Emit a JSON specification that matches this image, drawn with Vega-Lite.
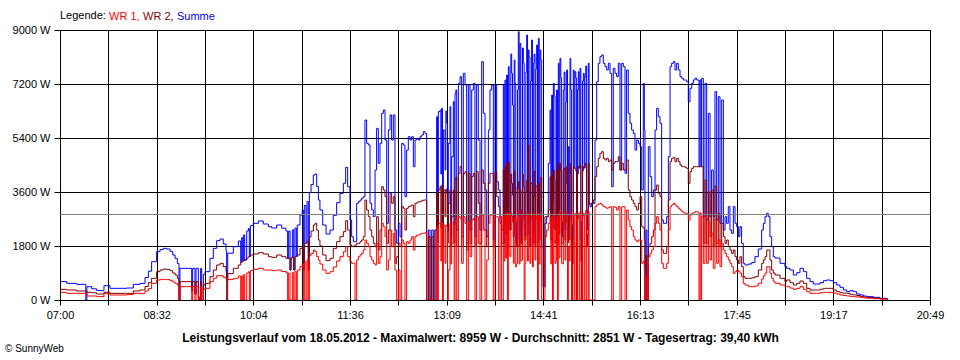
{
  "$schema": "https://vega.github.io/schema/vega-lite/v6.json",
  "width": 870,
  "height": 270,
  "autosize": "none",
  "padding": {"left": 60, "top": 30, "right": 30, "bottom": 60},
  "background": "#ffffff",
  "config": {
    "font": "Liberation Sans",
    "view": {"stroke": "#000000", "strokeWidth": 1},
    "axis": {"grid": true, "gridColor": "#000000", "gridOpacity": 1, "gridWidth": 1, "domain": false, "tickColor": "#000000", "tickWidth": 1, "labelColor": "#000000", "labelFont": "Liberation Sans", "labelFontSize": 11}
  },
  "title": {"text": "© SunnyWeb", "orient": "bottom", "anchor": "start", "frame": "group", "dx": -55, "offset": 1, "fontSize": 10, "fontWeight": "normal", "color": "#000000", "font": "Liberation Sans"},
  "data": {"values": [
    {"t":0.0,"wr1":256,"wr2":356,"sum":612},
    {"t":6.4,"wr1":222,"wr2":333,"sum":555},
    {"t":15.9,"wr1":222,"wr2":300,"sum":522},
    {"t":24.6,"wr1":222,"wr2":300,"sum":0},
    {"t":25.6,"wr1":133,"wr2":256,"sum":444},
    {"t":30.2,"wr1":133,"wr2":240,"sum":373},
    {"t":34.9,"wr1":120,"wr2":200,"sum":320},
    {"t":39.1,"wr1":111,"wr2":200,"sum":311},
    {"t":41.9,"wr1":222,"wr2":256,"sum":478},
    {"t":47.6,"wr1":167,"wr2":222,"sum":389},
    {"t":57.2,"wr1":167,"wr2":222,"sum":389},
    {"t":63.5,"wr1":180,"wr2":222,"sum":400},
    {"t":69.9,"wr1":222,"wr2":300,"sum":522},
    {"t":76.2,"wr1":222,"wr2":333,"sum":555},
    {"t":81.0,"wr1":300,"wr2":450,"sum":750},
    {"t":84.2,"wr1":380,"wr2":580,"sum":960},
    {"t":87.3,"wr1":556,"wr2":722,"sum":1278},
    {"t":92.1,"wr1":667,"wr2":944,"sum":1611},
    {"t":95.3,"wr1":680,"wr2":1000,"sum":1680},
    {"t":98.5,"wr1":689,"wr2":1033,"sum":1722},
    {"t":101.6,"wr1":680,"wr2":1020,"sum":1700},
    {"t":104.8,"wr1":644,"wr2":978,"sum":1622},
    {"t":107.4,"wr1":600,"wr2":900,"sum":1500},
    {"t":109.6,"wr1":556,"wr2":833,"sum":1389},
    {"t":111.8,"wr1":500,"wr2":720,"sum":1220},
    {"t":113.4,"wr1":0,"wr2":0,"sum":0},
    {"t":114.3,"wr1":444,"wr2":611,"sum":1055},
    {"t":125.5,"wr1":0,"wr2":300,"sum":300},
    {"t":126.4,"wr1":444,"wr2":611,"sum":1055},
    {"t":128.6,"wr1":0,"wr2":200,"sum":200},
    {"t":129.6,"wr1":444,"wr2":611,"sum":1055},
    {"t":131.8,"wr1":100,"wr2":0,"sum":100},
    {"t":132.8,"wr1":0,"wr2":0,"sum":0},
    {"t":134.0,"wr1":444,"wr2":611,"sum":1055},
    {"t":135.0,"wr1":0,"wr2":0,"sum":0},
    {"t":136.6,"wr1":356,"wr2":500,"sum":856},
    {"t":138.2,"wr1":389,"wr2":556,"sum":945},
    {"t":142.9,"wr1":611,"wr2":778,"sum":1389},
    {"t":146.1,"wr1":722,"wr2":1000,"sum":1722},
    {"t":149.3,"wr1":811,"wr2":1167,"sum":1978},
    {"t":152.5,"wr1":811,"wr2":1222,"sum":2033},
    {"t":155.6,"wr1":756,"wr2":1111,"sum":1867},
    {"t":158.2,"wr1":700,"wr2":944,"sum":1644},
    {"t":158.8,"wr1":722,"wr2":0,"sum":667},
    {"t":159.8,"wr1":680,"wr2":880,"sum":1560},
    {"t":165.2,"wr1":722,"wr2":1056,"sum":1778},
    {"t":169.9,"wr1":800,"wr2":1167,"sum":1967},
    {"t":172.2,"wr1":0,"wr2":1250,"sum":1250},
    {"t":173.1,"wr1":800,"wr2":1280,"sum":2080},
    {"t":174.1,"wr1":0,"wr2":1300,"sum":1300},
    {"t":175.0,"wr1":850,"wr2":1320,"sum":2170},
    {"t":176.0,"wr1":0,"wr2":1333,"sum":1333},
    {"t":177.9,"wr1":900,"wr2":1400,"sum":2300},
    {"t":179.5,"wr1":944,"wr2":1444,"sum":2388},
    {"t":180.4,"wr1":0,"wr2":1450,"sum":1450},
    {"t":181.4,"wr1":980,"wr2":1500,"sum":2480},
    {"t":184.2,"wr1":1022,"wr2":1533,"sum":2555},
    {"t":189.0,"wr1":1056,"wr2":1578,"sum":2634},
    {"t":193.7,"wr1":1000,"wr2":1533,"sum":2533},
    {"t":198.5,"wr1":1000,"wr2":1444,"sum":2444},
    {"t":201.7,"wr1":978,"wr2":1422,"sum":2400},
    {"t":206.5,"wr1":1000,"wr2":1500,"sum":2500},
    {"t":211.2,"wr1":950,"wr2":1444,"sum":2394},
    {"t":215.3,"wr1":911,"wr2":1389,"sum":2300},
    {"t":216.9,"wr1":0,"wr2":1389,"sum":1389},
    {"t":217.9,"wr1":900,"wr2":1400,"sum":2300},
    {"t":219.2,"wr1":0,"wr2":1000,"sum":1000},
    {"t":220.1,"wr1":0,"wr2":1400,"sum":1400},
    {"t":221.4,"wr1":920,"wr2":1420,"sum":2340},
    {"t":222.7,"wr1":0,"wr2":1000,"sum":1000},
    {"t":223.9,"wr1":950,"wr2":1450,"sum":2400},
    {"t":225.2,"wr1":0,"wr2":1450,"sum":1450},
    {"t":226.1,"wr1":1000,"wr2":1500,"sum":2500},
    {"t":228.7,"wr1":1111,"wr2":1722,"sum":2833},
    {"t":230.9,"wr1":1200,"wr2":1800,"sum":3000},
    {"t":231.9,"wr1":0,"wr2":1000,"sum":1000},
    {"t":232.8,"wr1":1270,"wr2":1880,"sum":3150},
    {"t":234.4,"wr1":0,"wr2":1900,"sum":1900},
    {"t":235.4,"wr1":1333,"wr2":1950,"sum":3283},
    {"t":236.6,"wr1":0,"wr2":1000,"sum":1000},
    {"t":237.6,"wr1":1480,"wr2":2100,"sum":3580},
    {"t":239.2,"wr1":1550,"wr2":2300,"sum":3850},
    {"t":241.4,"wr1":1667,"wr2":2500,"sum":4167},
    {"t":243.0,"wr1":1611,"wr2":2556,"sum":4200},
    {"t":244.6,"wr1":1450,"wr2":2333,"sum":3783},
    {"t":246.2,"wr1":1333,"wr2":2000,"sum":3333},
    {"t":247.7,"wr1":1200,"wr2":1800,"sum":3000},
    {"t":250.3,"wr1":1000,"wr2":1500,"sum":2500},
    {"t":253.5,"wr1":889,"wr2":1311,"sum":2200},
    {"t":257.3,"wr1":944,"wr2":1389,"sum":2333},
    {"t":260.4,"wr1":1100,"wr2":1722,"sum":2822},
    {"t":263.6,"wr1":1300,"wr2":1944,"sum":3244},
    {"t":266.8,"wr1":1444,"wr2":2111,"sum":3555},
    {"t":270.0,"wr1":1611,"wr2":2278,"sum":3889},
    {"t":272.2,"wr1":1778,"wr2":2644,"sum":4422},
    {"t":274.1,"wr1":1444,"wr2":2333,"sum":3777},
    {"t":276.3,"wr1":1278,"wr2":1833,"sum":2667},
    {"t":277.9,"wr1":1222,"wr2":1778,"sum":2111},
    {"t":279.5,"wr1":1222,"wr2":1800,"sum":1944},
    {"t":281.1,"wr1":0,"wr2":1833,"sum":1944},
    {"t":282.7,"wr1":1333,"wr2":1889,"sum":3222},
    {"t":284.3,"wr1":1444,"wr2":1889,"sum":3278},
    {"t":285.9,"wr1":1500,"wr2":1944,"sum":3333},
    {"t":287.4,"wr1":1556,"wr2":2000,"sum":3389},
    {"t":289.0,"wr1":1667,"wr2":2111,"sum":3444},
    {"t":290.6,"wr1":2000,"wr2":3333,"sum":6000},
    {"t":292.2,"wr1":1889,"wr2":3000,"sum":5222},
    {"t":293.8,"wr1":1778,"wr2":2778,"sum":5167},
    {"t":295.4,"wr1":1444,"wr2":2333,"sum":3222},
    {"t":297.0,"wr1":1333,"wr2":2111,"sum":3000},
    {"t":298.6,"wr1":1222,"wr2":1889,"sum":2778},
    {"t":300.2,"wr1":1167,"wr2":1778,"sum":4333},
    {"t":301.7,"wr1":1889,"wr2":2778,"sum":5722},
    {"t":303.3,"wr1":1222,"wr2":1667,"sum":4556},
    {"t":304.9,"wr1":1444,"wr2":2333,"sum":5222},
    {"t":306.5,"wr1":2556,"wr2":3778,"sum":6222},
    {"t":308.1,"wr1":2444,"wr2":3667,"sum":6333},
    {"t":309.7,"wr1":2111,"wr2":3444,"sum":5333},
    {"t":311.3,"wr1":1000,"wr2":1889,"sum":2556},
    {"t":312.9,"wr1":1333,"wr2":2333,"sum":5667},
    {"t":314.5,"wr1":2333,"wr2":3556,"sum":6167},
    {"t":316.0,"wr1":1778,"wr2":3222,"sum":5333},
    {"t":317.6,"wr1":2222,"wr2":3444,"sum":6167},
    {"t":319.2,"wr1":1000,"wr2":1222,"sum":2333},
    {"t":320.8,"wr1":0,"wr2":1444,"sum":1889},
    {"t":322.4,"wr1":1000,"wr2":1889,"sum":2556},
    {"t":324.0,"wr1":0,"wr2":1778,"sum":2111},
    {"t":325.6,"wr1":2000,"wr2":3111,"sum":5222},
    {"t":327.2,"wr1":1889,"wr2":3056,"sum":5167},
    {"t":328.7,"wr1":0,"wr2":2333,"sum":3444},
    {"t":330.3,"wr1":1944,"wr2":3056,"sum":5000},
    {"t":331.9,"wr1":1889,"wr2":3111,"sum":5444},
    {"t":333.5,"wr1":2000,"wr2":3133,"sum":5333},
    {"t":335.1,"wr1":2111,"wr2":3167,"sum":5444},
    {"t":336.7,"wr1":1667,"wr2":2778,"sum":4444},
    {"t":338.3,"wr1":2111,"wr2":3222,"sum":5333},
    {"t":339.9,"wr1":2167,"wr2":3244,"sum":5389},
    {"t":341.5,"wr1":2167,"wr2":3278,"sum":5333},
    {"t":343.0,"wr1":2200,"wr2":3278,"sum":5444},
    {"t":344.6,"wr1":2222,"wr2":3311,"sum":5500},
    {"t":346.2,"wr1":2222,"wr2":3333,"sum":5611},
    {"t":347.8,"wr1":2244,"wr2":3333,"sum":5556},
    {"t":349.4,"wr1":0,"wr2":0,"sum":0},
    {"t":351.0,"wr1":0,"wr2":2111,"sum":2333},
    {"t":352.6,"wr1":0,"wr2":0,"sum":0},
    {"t":354.2,"wr1":0,"wr2":2111,"sum":2333},
    {"t":355.7,"wr1":0,"wr2":0,"sum":0},
    {"t":357.3,"wr1":0,"wr2":2333,"sum":2333},
    {"t":358.9,"wr1":2444,"wr2":3556,"sum":6111},
    {"t":359.7,"wr1":0,"wr2":1900,"sum":2300},
    {"t":360.5,"wr1":2556,"wr2":3667,"sum":6278},
    {"t":362.1,"wr1":2556,"wr2":3778,"sum":6333},
    {"t":362.9,"wr1":1300,"wr2":2400,"sum":4200},
    {"t":363.7,"wr1":2578,"wr2":3833,"sum":6389},
    {"t":364.5,"wr1":0,"wr2":1800,"sum":2200},
    {"t":365.3,"wr1":2500,"wr2":3667,"sum":5667},
    {"t":366.9,"wr1":1222,"wr2":2778,"sum":4333},
    {"t":367.7,"wr1":2500,"wr2":3700,"sum":6300},
    {"t":368.5,"wr1":2444,"wr2":3556,"sum":5889},
    {"t":369.3,"wr1":0,"wr2":1900,"sum":2300},
    {"t":370.0,"wr1":1000,"wr2":3222,"sum":5222},
    {"t":371.6,"wr1":2556,"wr2":3667,"sum":6444},
    {"t":372.4,"wr1":1200,"wr2":1800,"sum":2100},
    {"t":373.2,"wr1":1889,"wr2":2778,"sum":4778},
    {"t":374.8,"wr1":2611,"wr2":3667,"sum":6611},
    {"t":375.6,"wr1":0,"wr2":1900,"sum":2500},
    {"t":376.4,"wr1":2667,"wr2":4000,"sum":6889},
    {"t":377.2,"wr1":2700,"wr2":4100,"sum":7000},
    {"t":378.0,"wr1":0,"wr2":1778,"sum":2333},
    {"t":379.6,"wr1":2778,"wr2":4222,"sum":7222},
    {"t":381.2,"wr1":2722,"wr2":4444,"sum":7444},
    {"t":382.7,"wr1":1222,"wr2":1778,"sum":2111},
    {"t":384.3,"wr1":2778,"wr2":4222,"sum":7556},
    {"t":385.9,"wr1":2556,"wr2":4278,"sum":7167},
    {"t":387.5,"wr1":0,"wr2":1667,"sum":1889},
    {"t":389.1,"wr1":2611,"wr2":4222,"sum":7167},
    {"t":390.7,"wr1":1444,"wr2":1889,"sum":2333},
    {"t":392.3,"wr1":2667,"wr2":4111,"sum":7000},
    {"t":393.9,"wr1":2722,"wr2":4222,"sum":7222},
    {"t":395.4,"wr1":0,"wr2":1778,"sum":2111},
    {"t":397.0,"wr1":2778,"wr2":4278,"sum":7167},
    {"t":398.6,"wr1":1889,"wr2":3222,"sum":5333},
    {"t":400.2,"wr1":0,"wr2":1889,"sum":2333},
    {"t":401.8,"wr1":2833,"wr2":4333,"sum":7944},
    {"t":403.4,"wr1":2333,"wr2":3889,"sum":6222},
    {"t":405.0,"wr1":0,"wr2":2333,"sum":3667},
    {"t":406.6,"wr1":1333,"wr2":1778,"sum":2111},
    {"t":408.2,"wr1":2556,"wr2":3889,"sum":5667},
    {"t":409.7,"wr1":2833,"wr2":4222,"sum":7000},
    {"t":411.3,"wr1":2833,"wr2":4222,"sum":7167},
    {"t":412.9,"wr1":0,"wr2":1778,"sum":2000},
    {"t":414.5,"wr1":2778,"wr2":4278,"sum":7167},
    {"t":416.1,"wr1":2778,"wr2":3444,"sum":3944},
    {"t":417.7,"wr1":0,"wr2":3111,"sum":3667},
    {"t":419.3,"wr1":2778,"wr2":2778,"sum":2556},
    {"t":420.8,"wr1":0,"wr2":2333,"sum":1889},
    {"t":422.4,"wr1":2778,"wr2":4333,"sum":7167},
    {"t":423.2,"wr1":1300,"wr2":1900,"sum":2500},
    {"t":424.0,"wr1":2833,"wr2":4444,"sum":7333},
    {"t":424.8,"wr1":1400,"wr2":2200,"sum":3000},
    {"t":425.6,"wr1":2889,"wr2":4556,"sum":7500},
    {"t":426.4,"wr1":0,"wr2":1800,"sum":2200},
    {"t":427.2,"wr1":2900,"wr2":4611,"sum":7778},
    {"t":428.0,"wr1":1500,"wr2":2600,"sum":4000},
    {"t":428.8,"wr1":1444,"wr2":2333,"sum":2333},
    {"t":429.6,"wr1":2900,"wr2":4200,"sum":8200},
    {"t":430.4,"wr1":2800,"wr2":3889,"sum":7556},
    {"t":431.2,"wr1":2600,"wr2":3500,"sum":6500},
    {"t":432.0,"wr1":1222,"wr2":2111,"sum":2111},
    {"t":432.8,"wr1":2700,"wr2":4300,"sum":8000},
    {"t":433.5,"wr1":2778,"wr2":3778,"sum":7222},
    {"t":434.3,"wr1":1100,"wr2":1900,"sum":2600},
    {"t":435.1,"wr1":1222,"wr2":1778,"sum":1778},
    {"t":435.9,"wr1":2800,"wr2":3700,"sum":7000},
    {"t":436.7,"wr1":3000,"wr2":3944,"sum":8944},
    {"t":437.5,"wr1":1200,"wr2":1800,"sum":2000},
    {"t":438.3,"wr1":2800,"wr2":3667,"sum":8556},
    {"t":439.1,"wr1":1300,"wr2":2100,"sum":3000},
    {"t":439.9,"wr1":1333,"wr2":1889,"sum":1889},
    {"t":440.7,"wr1":2900,"wr2":4200,"sum":8400},
    {"t":441.5,"wr1":2700,"wr2":3778,"sum":7889},
    {"t":442.3,"wr1":0,"wr2":2000,"sum":2400},
    {"t":443.1,"wr1":1222,"wr2":2000,"sum":2111},
    {"t":443.9,"wr1":2800,"wr2":3600,"sum":7600},
    {"t":444.7,"wr1":2900,"wr2":4000,"sum":8833},
    {"t":445.5,"wr1":1300,"wr2":2200,"sum":2600},
    {"t":446.3,"wr1":2778,"wr2":5167,"sum":8333},
    {"t":447.0,"wr1":2900,"wr2":4500,"sum":8100},
    {"t":447.8,"wr1":1222,"wr2":1778,"sum":1778},
    {"t":448.6,"wr1":2700,"wr2":3900,"sum":7300},
    {"t":449.4,"wr1":2800,"wr2":3889,"sum":8667},
    {"t":450.2,"wr1":1100,"wr2":1900,"sum":2200},
    {"t":451.0,"wr1":2778,"wr2":3444,"sum":7889},
    {"t":451.8,"wr1":2900,"wr2":4300,"sum":8200},
    {"t":452.6,"wr1":1333,"wr2":1778,"sum":1889},
    {"t":453.4,"wr1":2700,"wr2":3800,"sum":7700},
    {"t":454.2,"wr1":2800,"wr2":3778,"sum":8500},
    {"t":455.0,"wr1":0,"wr2":1900,"sum":2300},
    {"t":455.8,"wr1":2900,"wr2":3889,"sum":8722},
    {"t":456.6,"wr1":1200,"wr2":2000,"sum":2600},
    {"t":457.4,"wr1":2778,"wr2":3444,"sum":8333},
    {"t":458.2,"wr1":2800,"wr2":4100,"sum":8000},
    {"t":459.0,"wr1":0,"wr2":1778,"sum":1778},
    {"t":460.5,"wr1":0,"wr2":444,"sum":444},
    {"t":462.1,"wr1":2111,"wr2":2778,"sum":2556},
    {"t":463.7,"wr1":2333,"wr2":2778,"sum":2778},
    {"t":465.3,"wr1":2556,"wr2":3000,"sum":4556},
    {"t":466.9,"wr1":2778,"wr2":4111,"sum":6333},
    {"t":467.7,"wr1":1200,"wr2":2000,"sum":2600},
    {"t":468.5,"wr1":2778,"wr2":4222,"sum":6833},
    {"t":469.3,"wr1":0,"wr2":2400,"sum":3300},
    {"t":470.1,"wr1":2889,"wr2":4333,"sum":7222},
    {"t":470.9,"wr1":2700,"wr2":4000,"sum":6800},
    {"t":471.7,"wr1":1222,"wr2":1889,"sum":2333},
    {"t":472.5,"wr1":1300,"wr2":2000,"sum":2800},
    {"t":473.2,"wr1":2778,"wr2":4333,"sum":7000},
    {"t":474.0,"wr1":0,"wr2":1900,"sum":2400},
    {"t":474.8,"wr1":2889,"wr2":4556,"sum":7889},
    {"t":475.6,"wr1":1400,"wr2":2200,"sum":3000},
    {"t":476.4,"wr1":2944,"wr2":4556,"sum":8056},
    {"t":477.2,"wr1":2800,"wr2":4300,"sum":7400},
    {"t":478.0,"wr1":1222,"wr2":1889,"sum":2111},
    {"t":478.8,"wr1":1200,"wr2":1900,"sum":2600},
    {"t":479.6,"wr1":2778,"wr2":4333,"sum":7000},
    {"t":480.4,"wr1":2900,"wr2":4400,"sum":7600},
    {"t":481.2,"wr1":1333,"wr2":2000,"sum":2333},
    {"t":482.0,"wr1":2600,"wr2":3900,"sum":6600},
    {"t":482.8,"wr1":2889,"wr2":4444,"sum":7667},
    {"t":483.6,"wr1":0,"wr2":1900,"sum":2400},
    {"t":484.4,"wr1":1778,"wr2":2778,"sum":5111},
    {"t":485.2,"wr1":1300,"wr2":2000,"sum":2800},
    {"t":486.0,"wr1":2944,"wr2":4556,"sum":8056},
    {"t":486.7,"wr1":2700,"wr2":4200,"sum":7000},
    {"t":487.5,"wr1":0,"wr2":0,"sum":0},
    {"t":488.3,"wr1":1200,"wr2":2000,"sum":2500},
    {"t":489.1,"wr1":2889,"wr2":4444,"sum":7667},
    {"t":489.9,"wr1":0,"wr2":4400,"sum":4400},
    {"t":490.7,"wr1":2833,"wr2":4389,"sum":7611},
    {"t":491.5,"wr1":2900,"wr2":4300,"sum":7400},
    {"t":492.3,"wr1":0,"wr2":0,"sum":0},
    {"t":493.1,"wr1":2700,"wr2":4200,"sum":7000},
    {"t":493.9,"wr1":2889,"wr2":4444,"sum":7611},
    {"t":494.7,"wr1":0,"wr2":4400,"sum":4400},
    {"t":495.5,"wr1":2944,"wr2":4500,"sum":7722},
    {"t":496.3,"wr1":1300,"wr2":2000,"sum":2600},
    {"t":497.1,"wr1":0,"wr2":0,"sum":0},
    {"t":497.9,"wr1":2800,"wr2":4300,"sum":7300},
    {"t":498.7,"wr1":2889,"wr2":4444,"sum":7556},
    {"t":499.5,"wr1":0,"wr2":4400,"sum":4400},
    {"t":500.2,"wr1":2833,"wr2":4556,"sum":7444},
    {"t":501.0,"wr1":3000,"wr2":4500,"sum":7800},
    {"t":501.8,"wr1":0,"wr2":1778,"sum":2333},
    {"t":502.6,"wr1":0,"wr2":2200,"sum":3000},
    {"t":503.4,"wr1":2944,"wr2":4556,"sum":7889},
    {"t":504.2,"wr1":0,"wr2":3200,"sum":3200},
    {"t":505.0,"wr1":0,"wr2":3222,"sum":3111},
    {"t":506.6,"wr1":0,"wr2":3222,"sum":3222},
    {"t":508.2,"wr1":0,"wr2":3333,"sum":3222},
    {"t":509.8,"wr1":3111,"wr2":4111,"sum":5333},
    {"t":511.4,"wr1":3167,"wr2":4444,"sum":7278},
    {"t":512.9,"wr1":3200,"wr2":4722,"sum":7889},
    {"t":514.5,"wr1":3222,"wr2":4889,"sum":8111},
    {"t":516.1,"wr1":3167,"wr2":4944,"sum":8167},
    {"t":517.7,"wr1":3111,"wr2":4722,"sum":7889},
    {"t":519.3,"wr1":3089,"wr2":4667,"sum":7778},
    {"t":520.9,"wr1":3056,"wr2":4722,"sum":7667},
    {"t":522.5,"wr1":3089,"wr2":4611,"sum":7889},
    {"t":524.1,"wr1":3111,"wr2":4667,"sum":7556},
    {"t":525.7,"wr1":0,"wr2":4333,"sum":3778},
    {"t":527.2,"wr1":3111,"wr2":4556,"sum":7722},
    {"t":528.8,"wr1":3089,"wr2":4611,"sum":7556},
    {"t":530.4,"wr1":3000,"wr2":4611,"sum":7444},
    {"t":532.0,"wr1":3111,"wr2":4778,"sum":7889},
    {"t":533.6,"wr1":0,"wr2":4333,"sum":4333},
    {"t":535.2,"wr1":3111,"wr2":4556,"sum":7889},
    {"t":536.8,"wr1":3111,"wr2":4333,"sum":7778},
    {"t":538.4,"wr1":0,"wr2":4333,"sum":4222},
    {"t":539.9,"wr1":3000,"wr2":4667,"sum":7667},
    {"t":541.5,"wr1":2667,"wr2":3667,"sum":6222},
    {"t":543.1,"wr1":2444,"wr2":3444,"sum":5889},
    {"t":544.7,"wr1":2333,"wr2":3333,"sum":5667},
    {"t":546.3,"wr1":2111,"wr2":3222,"sum":5556},
    {"t":547.9,"wr1":2000,"wr2":3111,"sum":5000},
    {"t":549.5,"wr1":1944,"wr2":3000,"sum":5333},
    {"t":551.1,"wr1":2000,"wr2":3222,"sum":5222},
    {"t":552.7,"wr1":2000,"wr2":3444,"sum":5111},
    {"t":554.3,"wr1":1222,"wr2":2444,"sum":3667},
    {"t":555.8,"wr1":1300,"wr2":2400,"sum":7222},
    {"t":556.8,"wr1":1000,"wr2":2000,"sum":5667},
    {"t":557.4,"wr1":0,"wr2":0,"sum":0},
    {"t":558.4,"wr1":800,"wr2":1500,"sum":2333},
    {"t":559.3,"wr1":0,"wr2":0,"sum":0},
    {"t":560.6,"wr1":1444,"wr2":1778,"sum":5111},
    {"t":562.2,"wr1":1556,"wr2":1889,"sum":4111},
    {"t":563.8,"wr1":1667,"wr2":2111,"sum":3444},
    {"t":565.4,"wr1":1778,"wr2":2333,"sum":3667},
    {"t":567.0,"wr1":2556,"wr2":3667,"sum":5667},
    {"t":568.5,"wr1":2778,"wr2":3833,"sum":6389},
    {"t":570.1,"wr1":2556,"wr2":3556,"sum":6111},
    {"t":571.7,"wr1":2333,"wr2":3444,"sum":5889},
    {"t":573.3,"wr1":1222,"wr2":1667,"sum":2667},
    {"t":574.9,"wr1":1056,"wr2":1556,"sum":2556},
    {"t":576.5,"wr1":1056,"wr2":1556,"sum":2556},
    {"t":578.1,"wr1":1222,"wr2":1778,"sum":2778},
    {"t":579.7,"wr1":2333,"wr2":3333,"sum":4778},
    {"t":581.3,"wr1":3111,"wr2":4611,"sum":7778},
    {"t":582.8,"wr1":3167,"wr2":4722,"sum":7889},
    {"t":584.4,"wr1":3222,"wr2":4756,"sum":7944},
    {"t":586.0,"wr1":3167,"wr2":4611,"sum":7667},
    {"t":587.6,"wr1":3111,"wr2":4722,"sum":7889},
    {"t":589.2,"wr1":3056,"wr2":4611,"sum":7667},
    {"t":590.8,"wr1":3000,"wr2":4500,"sum":7444},
    {"t":592.4,"wr1":2944,"wr2":4444,"sum":7389},
    {"t":594.0,"wr1":2911,"wr2":4444,"sum":7333},
    {"t":595.5,"wr1":2889,"wr2":4422,"sum":7333},
    {"t":597.1,"wr1":2889,"wr2":4389,"sum":7278},
    {"t":598.7,"wr1":2667,"wr2":3889,"sum":6611},
    {"t":600.3,"wr1":2833,"wr2":4278,"sum":7056},
    {"t":601.9,"wr1":2889,"wr2":4389,"sum":7222},
    {"t":603.5,"wr1":2911,"wr2":4444,"sum":7333},
    {"t":605.1,"wr1":2944,"wr2":4444,"sum":7389},
    {"t":606.7,"wr1":2944,"wr2":4444,"sum":7333},
    {"t":608.2,"wr1":2911,"wr2":4444,"sum":7333},
    {"t":608.9,"wr1":0,"wr2":4444,"sum":4444},
    {"t":609.8,"wr1":2911,"wr2":4444,"sum":7333},
    {"t":610.8,"wr1":0,"wr2":4444,"sum":4444},
    {"t":611.4,"wr1":2778,"wr2":4444,"sum":7389},
    {"t":613.0,"wr1":1222,"wr2":1889,"sum":2778},
    {"t":614.6,"wr1":2800,"wr2":4000,"sum":7222},
    {"t":616.2,"wr1":1222,"wr2":1889,"sum":2667},
    {"t":617.8,"wr1":2600,"wr2":3600,"sum":6222},
    {"t":619.4,"wr1":1333,"wr2":2111,"sum":2778},
    {"t":620.9,"wr1":2222,"wr2":3667,"sum":4333},
    {"t":622.5,"wr1":1056,"wr2":1778,"sum":2778},
    {"t":624.1,"wr1":2700,"wr2":3800,"sum":6944},
    {"t":625.7,"wr1":1222,"wr2":1889,"sum":2667},
    {"t":627.3,"wr1":2000,"wr2":2889,"sum":6778},
    {"t":628.9,"wr1":1111,"wr2":1778,"sum":2556},
    {"t":630.5,"wr1":1889,"wr2":2556,"sum":6667},
    {"t":632.1,"wr1":1667,"wr2":2111,"sum":2333},
    {"t":633.7,"wr1":1556,"wr2":1889,"sum":2778},
    {"t":635.2,"wr1":1444,"wr2":2000,"sum":2556},
    {"t":636.8,"wr1":1333,"wr2":1778,"sum":3111},
    {"t":638.4,"wr1":1222,"wr2":1667,"sum":2333},
    {"t":640.0,"wr1":1111,"wr2":1556,"sum":2222},
    {"t":641.6,"wr1":889,"wr2":1667,"sum":3111},
    {"t":643.2,"wr1":944,"wr2":1444,"sum":2556},
    {"t":644.8,"wr1":1000,"wr2":1333,"sum":2444},
    {"t":646.4,"wr1":944,"wr2":1222,"sum":2111},
    {"t":647.9,"wr1":889,"wr2":1444,"sum":2444},
    {"t":649.5,"wr1":778,"wr2":1111,"sum":1889},
    {"t":651.1,"wr1":556,"wr2":778,"sum":1222},
    {"t":652.7,"wr1":500,"wr2":722,"sum":1167},
    {"t":655.9,"wr1":444,"wr2":722,"sum":1200},
    {"t":659.1,"wr1":444,"wr2":740,"sum":1250},
    {"t":662.2,"wr1":470,"wr2":778,"sum":1444},
    {"t":665.4,"wr1":556,"wr2":1000,"sum":1700},
    {"t":668.6,"wr1":700,"wr2":1222,"sum":2333},
    {"t":670.2,"wr1":800,"wr2":1333,"sum":2556},
    {"t":671.8,"wr1":900,"wr2":1444,"sum":2778},
    {"t":673.4,"wr1":1111,"wr2":1667,"sum":2889},
    {"t":674.9,"wr1":1111,"wr2":1667,"sum":2778},
    {"t":676.5,"wr1":889,"wr2":1333,"sum":2111},
    {"t":678.1,"wr1":722,"wr2":1000,"sum":1778},
    {"t":679.7,"wr1":620,"wr2":900,"sum":1444},
    {"t":681.3,"wr1":556,"wr2":833,"sum":1400},
    {"t":686.1,"wr1":500,"wr2":722,"sum":1222},
    {"t":690.8,"wr1":444,"wr2":611,"sum":1111},
    {"t":692.4,"wr1":444,"wr2":667,"sum":1056},
    {"t":695.6,"wr1":400,"wr2":578,"sum":1000},
    {"t":698.8,"wr1":356,"wr2":500,"sum":833},
    {"t":702.0,"wr1":389,"wr2":556,"sum":911},
    {"t":705.1,"wr1":444,"wr2":633,"sum":1056},
    {"t":708.3,"wr1":356,"wr2":556,"sum":944},
    {"t":711.5,"wr1":278,"wr2":389,"sum":722},
    {"t":714.7,"wr1":222,"wr2":333,"sum":611},
    {"t":717.8,"wr1":222,"wr2":333,"sum":533},
    {"t":721.0,"wr1":222,"wr2":333,"sum":533},
    {"t":724.2,"wr1":240,"wr2":360,"sum":578},
    {"t":727.4,"wr1":256,"wr2":389,"sum":644},
    {"t":730.5,"wr1":256,"wr2":389,"sum":667},
    {"t":733.7,"wr1":256,"wr2":389,"sum":644},
    {"t":736.9,"wr1":230,"wr2":333,"sum":578},
    {"t":740.1,"wr1":200,"wr2":278,"sum":500},
    {"t":743.2,"wr1":167,"wr2":244,"sum":422},
    {"t":746.4,"wr1":150,"wr2":230,"sum":333},
    {"t":749.6,"wr1":133,"wr2":222,"sum":278},
    {"t":752.8,"wr1":120,"wr2":190,"sum":311},
    {"t":755.9,"wr1":110,"wr2":170,"sum":278},
    {"t":759.1,"wr1":100,"wr2":150,"sum":200},
    {"t":762.3,"wr1":90,"wr2":120,"sum":167},
    {"t":765.5,"wr1":70,"wr2":100,"sum":133},
    {"t":768.7,"wr1":60,"wr2":80,"sum":111},
    {"t":775.0,"wr1":45,"wr2":60,"sum":89},
    {"t":781.4,"wr1":30,"wr2":40,"sum":56},
    {"t":787.7,"wr1":25,"wr2":30,"sum":44},
    {"t":789.0,"wr1":25,"wr2":30,"sum":44}
  ]},
  "layer": [
    {
      "mark": {"type": "line", "interpolate": "step-after", "strokeWidth": 1, "clip": true},
      "encoding": {
        "x": {
          "field": "t", "type": "quantitative",
          "scale": {"domain": [0, 829], "nice": false, "zero": false},
          "axis": {
            "values": [0, 46.056, 92.111, 138.167, 184.222, 230.278, 276.333, 322.389, 368.444, 414.5, 460.556, 506.611, 552.667, 598.722, 644.778, 690.833, 736.889, 782.944, 829],
            "labelExpr": "['07:00','','08:32','','10:04','','11:36','','13:09','','14:41','','16:13','','17:45','','19:17','','20:49'][round(datum.value / 46.0556)]",
            "tickSize": 5, "labelPadding": 4, "labelFlush": false, "labelOverlap": false,
            "title": "Leistungsverlauf vom 18.05.2012 - Maximalwert: 8959 W - Durchschnitt: 2851 W - Tagesertrag: 39,40 kWh",
            "titleFontWeight": "bold", "titleFontSize": 12, "titleFont": "Liberation Sans", "titleColor": "#000000",
            "titleX": 420, "titleY": 37, "titleAlign": "center", "titleBaseline": "middle", "titleAnchor": "start"
          }
        },
        "y": {
          "field": "sum", "type": "quantitative", "title": null,
          "scale": {"domain": [0, 9000], "nice": false},
          "axis": {"values": [0, 1800, 3600, 5400, 7200, 9000], "labelExpr": "datum.value + ' W'", "tickSize": 6, "labelPadding": 4, "title": null}
        },
        "color": {
          "datum": "Summe",
          "scale": {"domain": ["WR 1", "WR 2", "Summe"], "range": ["#ff0000", "#800000", "#0000ff"]},
          "legend": {
            "title": "Legende:", "orient": "none", "legendX": 0, "legendY": -19, "direction": "horizontal",
            "titleOrient": "left", "titleFontWeight": "normal", "titleFontSize": 11, "titleFont": "Liberation Sans", "titleColor": "#000000", "titlePadding": 3,
            "symbolType": "circle", "symbolSize": 0, "symbolOpacity": 0, "symbolStrokeWidth": 0, "labelOffset": -11, "columnPadding": 3,
            "labelFontSize": 11, "labelFont": "Liberation Sans",
            "labelExpr": "datum.label == 'Summe' ? datum.label : datum.label + ','",
            "encode": {"labels": {"update": {"fill": {"scale": "color", "field": "value"}}}}
          }
        }
      }
    },
    {
      "mark": {"type": "line", "interpolate": "step-after", "strokeWidth": 1, "clip": true},
      "encoding": {
        "x": {"field": "t", "type": "quantitative"},
        "y": {"field": "wr2", "type": "quantitative", "title": null},
        "color": {"datum": "WR 2"}
      }
    },
    {
      "mark": {"type": "line", "interpolate": "step-after", "strokeWidth": 1, "clip": true},
      "encoding": {
        "x": {"field": "t", "type": "quantitative"},
        "y": {"field": "wr1", "type": "quantitative", "title": null},
        "color": {"datum": "WR 1"}
      }
    },
    {
      "data": {"values": [{"avg": 2851}]},
      "mark": {"type": "rule", "color": "#808080", "strokeWidth": 1},
      "encoding": {"y": {"field": "avg", "type": "quantitative", "title": null}}
    }
  ]
}
